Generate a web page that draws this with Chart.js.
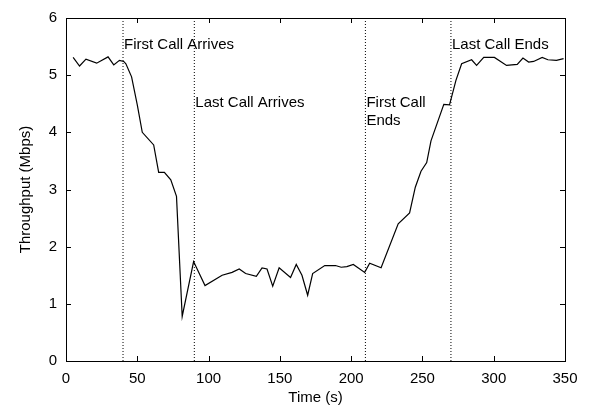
<!DOCTYPE html>
<html>
<head>
<meta charset="utf-8">
<script src="https://cdn.jsdelivr.net/npm/chart.js@4/dist/chart.umd.min.js"></script>
<style>
  html, body { margin: 0; padding: 0; background: #fff; }
</style>
</head>
<body>
<canvas id="throughputChart" width="591" height="407"></canvas>
<script>
// Throughput samples (time in seconds, Mbps)
const timeSec = [
    5, 9.5, 14, 21.5, 29.5, 33.5, 37.5, 40.5, 42, 46, 50, 53.5, 61.5, 65,
    69, 73.5, 77.5, 81.5, 89.5, 97.5, 109.5, 116.5, 121.5, 126, 133.5, 137.5,
    141, 145, 149.5, 157.5, 161.5, 165.5, 169.5, 173, 181.5, 189, 193, 197,
    201.5, 209.5, 213, 221, 233, 241, 245, 249, 253, 256, 265, 269, 273.5,
    277.5, 284.5, 288, 293, 300.5, 309, 316.5, 320.5, 324.5, 328, 334, 338,
    344, 349
];
const throughputMbps = [
    5.31, 5.16, 5.28, 5.21, 5.32, 5.18, 5.26, 5.24, 5.20, 4.97, 4.48, 4.00, 3.78, 3.30,
    3.30, 3.17, 2.88, 0.78, 1.74, 1.32, 1.50, 1.55, 1.61, 1.53, 1.48, 1.63,
    1.61, 1.31, 1.63, 1.46, 1.69, 1.50, 1.15, 1.53, 1.67, 1.67, 1.64, 1.65,
    1.69, 1.55, 1.71, 1.63, 2.40, 2.59, 3.04, 3.32, 3.47, 3.85, 4.49, 4.48, 4.91,
    5.20, 5.27, 5.17, 5.31, 5.31, 5.17, 5.19, 5.30, 5.23, 5.24, 5.31, 5.27,
    5.26, 5.29
];

// Call events: vertical markers and their captions
const eventTimes = [40, 90, 210, 270];
const eventLabels = [["First Call Arrives"], ["Last Call Arrives"], ["First Call", "Ends"], ["Last Call Ends"]];
const eventLabelY = [5.53, 4.52, 4.52, 5.53];

const xTicks = [0, 50, 100, 150, 200, 250, 300, 350];
const yTicks = [0, 1, 2, 3, 4, 5, 6];

const FONT = "'Liberation Sans', Arial, Helvetica, sans-serif";

// Box frame with inward tick marks, plus event captions
const framePlugin = {
    id: "frame",
    afterDatasetsDraw(chart) {
        const { ctx, chartArea: a, scales } = chart;
        const tick = 5;
        ctx.save();
        ctx.strokeStyle = "#000";
        ctx.lineWidth = 1;
        ctx.beginPath();
        xTicks.forEach((v) => {
            const px = Math.round(scales.x.getPixelForValue(v)) + 0.5;
            ctx.moveTo(px, a.bottom);
            ctx.lineTo(px, a.bottom - tick);
            ctx.moveTo(px, a.top);
            ctx.lineTo(px, a.top + tick);
        });
        yTicks.forEach((v) => {
            const py = Math.round(scales.y.getPixelForValue(v)) + 0.5;
            ctx.moveTo(a.left, py);
            ctx.lineTo(a.left + tick, py);
            ctx.moveTo(a.right, py);
            ctx.lineTo(a.right - tick, py);
        });
        ctx.stroke();
        ctx.strokeRect(Math.round(a.left) + 0.5, Math.round(a.top) + 0.5,
            Math.round(a.right - a.left), Math.round(a.bottom - a.top));

        ctx.fillStyle = "#000";
        ctx.font = "15px " + FONT;
        ctx.textAlign = "left";
        ctx.textBaseline = "middle";
        eventTimes.forEach((t, i) => {
            const px = scales.x.getPixelForValue(t) + 1;
            const py = scales.y.getPixelForValue(eventLabelY[i]);
            eventLabels[i].forEach((line, j) => {
                ctx.fillText(line, px, py + j * 18);
            });
        });
        ctx.restore();
    },
};

const eventDatasets = eventTimes.map((t) => ({
    data: [{ x: t, y: 0 }, { x: t, y: 6 }],
    borderColor: "#000",
    borderWidth: 1,
    borderDash: [1, 2],
    pointRadius: 0,
}));

new Chart(document.getElementById("throughputChart").getContext("2d"), {
    type: "line",
    data: {
        datasets: [
            {
                label: "Throughput",
                data: timeSec.map((t, i) => ({ x: t, y: throughputMbps[i] })),
                borderColor: "#000",
                borderWidth: 1.2,
                pointRadius: 0,
                tension: 0,
            },
            ...eventDatasets,
        ],
    },
    options: {
        responsive: false,
        animation: false,
        devicePixelRatio: 1,
        layout: { padding: { top: 17, right: 26, left: 0, bottom: 0 } },
        plugins: {
            legend: { display: false },
            tooltip: { enabled: false },
        },
        scales: {
            x: {
                type: "linear",
                min: 0,
                max: 350,
                afterFit: (scale) => { scale.height = 46; },
                afterBuildTicks: (scale) => { scale.ticks = xTicks.map((v) => ({ value: v })); },
                grid: { display: false, drawTicks: false },
                border: { display: false },
                ticks: {
                    color: "#000",
                    padding: 9,
                    maxRotation: 0,
                    font: { family: FONT, size: 15 },
                },
                title: {
                    display: true,
                    text: "Time (s)",
                    color: "#000",
                    padding: { top: 0, bottom: 0 },
                    font: { family: FONT, size: 15 },
                },
            },
            y: {
                min: 0,
                max: 6,
                afterFit: (scale) => { scale.width = 66; },
                afterBuildTicks: (scale) => { scale.ticks = yTicks.map((v) => ({ value: v })); },
                grid: { display: false, drawTicks: false },
                border: { display: false },
                ticks: {
                    color: "#000",
                    padding: 9,
                    font: { family: FONT, size: 15 },
                },
                title: {
                    display: true,
                    text: "Throughput (Mbps)",
                    color: "#000",
                    padding: { top: 17, bottom: 0 },
                    font: { family: FONT, size: 15 },
                },
            },
        },
    },
    plugins: [framePlugin],
});
</script>
</body>
</html>
